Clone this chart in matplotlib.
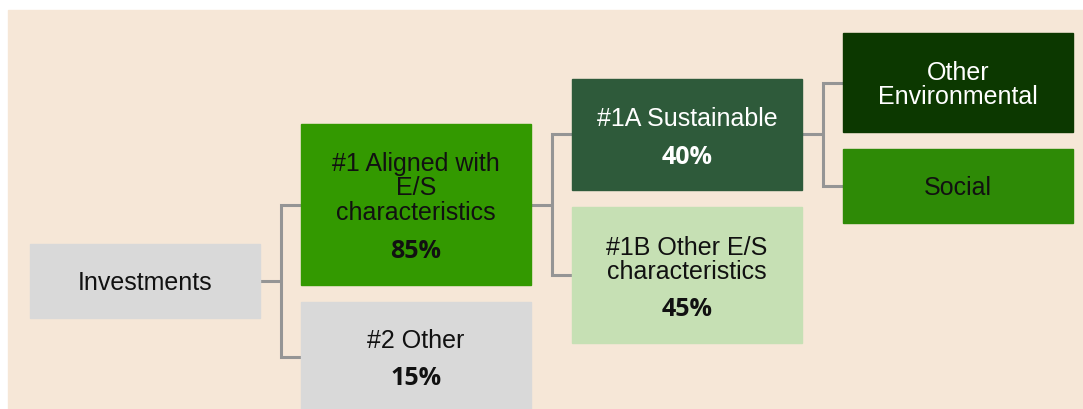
import matplotlib.pyplot as plt
from matplotlib.patches import Rectangle

# tree of investments: names, shares and colours
names = ["Investments", "#1 Aligned with\nE/S\ncharacteristics", "#2 Other",
         "#1A Sustainable", "#1B Other E/S\ncharacteristics",
         "Other\nEnvironmental", "Social"]
shares = ["", "85%", "15%", "40%", "45%", "", ""]
fills = ["#d9d9d9", "#339900", "#d9d9d9", "#2e5a3a", "#c6e0b4", "#0c3800", "#2e8a06"]
text_colors = ["#111111", "#111111", "#111111", "white", "#111111", "white", "#111111"]

# box layout in pixels: left, top, right, bottom
boxes = [(30, 245, 260, 319), (301, 125, 531, 286), (301, 303, 531, 420),
         (572, 80, 802, 191), (572, 208, 802, 344),
         (843, 34, 1073, 133), (843, 150, 1073, 224)]
# y of first text line and y of the percentage
label_y = [283, 164, 341, 119, 248, 73, 188]
share_y = [None, 251, 379, 158, 310, None, None]
line_step = 24.5

# links: parent, child1, child2, y of parent stub, y children
links = [(0, 1, 2, 282, 206, 358), (1, 3, 4, 206, 135, 276), (3, 5, 6, 135, 84, 187)]

fig = plt.figure(figsize=(10.83, 4.10), dpi=100)
ax = fig.add_axes([0, 0, 1, 1])
ax.set_xlim(0, 1083)
ax.set_ylim(410, 0)
ax.axis("off")

ax.add_patch(Rectangle((8, 11), 1083 - 8, 410 - 11, color="#f6e7d7", zorder=0))

for p, c1, c2, ys, y1, y2 in links:
    x0 = boxes[p][2]
    x2 = boxes[c1][0]
    xm = (x0 + x2) / 2
    ax.plot([x0, xm], [ys, ys], color="#959595", lw=2.2, zorder=1, solid_capstyle="butt")
    ax.plot([x2, xm, xm, x2], [y1, y1, y2, y2], color="#959595", lw=2.2, zorder=1,
            solid_joinstyle="miter")

for i, (l, t, r, b) in enumerate(boxes):
    ax.add_patch(Rectangle((l, t), r - l, b - t, color=fills[i], zorder=2))
    cx = (l + r) / 2
    for k, line in enumerate(names[i].split("\n")):
        ax.text(cx, label_y[i] + k * line_step, line, ha="center", va="center",
                fontsize=18, family="Liberation Sans", color=text_colors[i], zorder=3)
    if shares[i]:
        ax.text(cx, share_y[i], shares[i], ha="center", va="center", fontsize=18,
                family="Open Sans", weight="bold", color=text_colors[i], zorder=3)

fig.savefig("out.png", dpi=100)
